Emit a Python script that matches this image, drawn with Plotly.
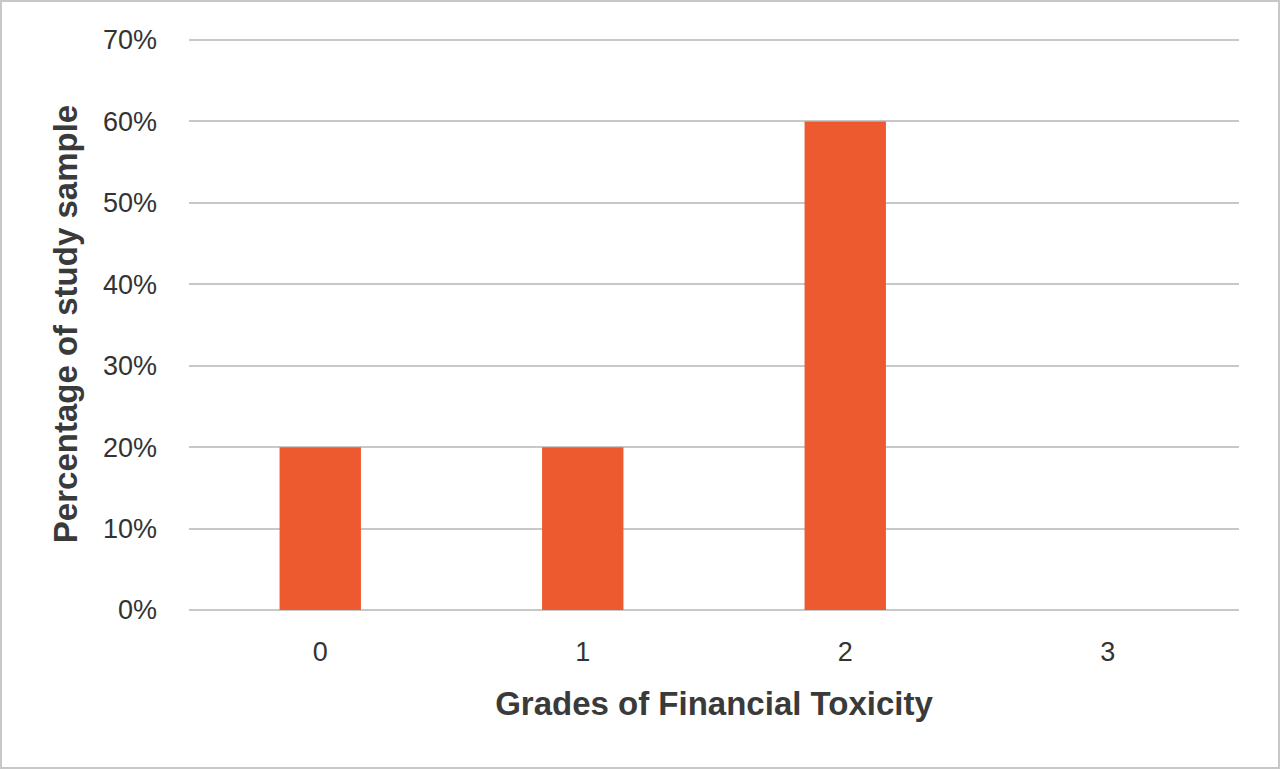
import plotly.graph_objects as go

categories = ["0", "1", "2", "3"]
values = [0.20, 0.20, 0.60, 0.0]
y_ticks = [0, 0.1, 0.2, 0.3, 0.4, 0.5, 0.6, 0.7]
y_tick_labels = ["0%", "10%", "20%", "30%", "40%", "50%", "60%", "70%"]

W, H = 1280, 769
ml, mr, mt, mb = 189, 41, 38, 159
pw, ph = W - ml - mr, H - mt - mb

fig = go.Figure(go.Bar(
    x=categories, y=values,
    marker=dict(color="#EE5A2F", line=dict(width=0)),
    width=0.31,
))

fig.update_layout(
    width=W, height=H,
    margin=dict(l=ml, r=mr, t=mt, b=mb),
    paper_bgcolor="white", plot_bgcolor="white",
    font=dict(family="Liberation Sans, Arial, sans-serif", color="#333333"),
    showlegend=False,
    xaxis=dict(
        type="category",
        tickfont=dict(size=27, color="#333333"),
        ticklabelstandoff=23,
        showgrid=False, showline=False, zeroline=False,
        title=dict(text="<b>Grades of Financial Toxicity</b>",
                   font=dict(size=33, color="#3a3a3a"), standoff=25),
    ),
    yaxis=dict(
        range=[0, 0.70245],
        tickvals=y_ticks, ticktext=y_tick_labels,
        tickfont=dict(size=27, color="#333333"),
        ticklabelstandoff=31,
        showgrid=True, gridcolor="#C8C8C8", gridwidth=1.5,
        zeroline=True, zerolinecolor="#C8C8C8", zerolinewidth=1.5,
        showline=False,
        title=dict(text="<b>Percentage of study sample</b>",
                   font=dict(size=33, color="#3a3a3a"), standoff=15),
    ),
    shapes=[dict(
        type="rect", xref="paper", yref="paper",
        x0=(1 - ml) / pw, x1=(W - 1 - ml) / pw,
        y0=-(H - 1 - mt - ph) / ph, y1=(ph + mt - 1) / ph,
        line=dict(color="#C8C8C8", width=2), fillcolor="rgba(0,0,0,0)",
        layer="below",
    )],
)

fig.write_html("out.html", config={"displayModeBar": False})
with open("out.html", "r", encoding="utf-8") as f:
    html = f.read()
html = html.replace("<head>", "<head><style>html,body{margin:0;padding:0;overflow:hidden}</style>", 1)
with open("out.html", "w", encoding="utf-8") as f:
    f.write(html)
